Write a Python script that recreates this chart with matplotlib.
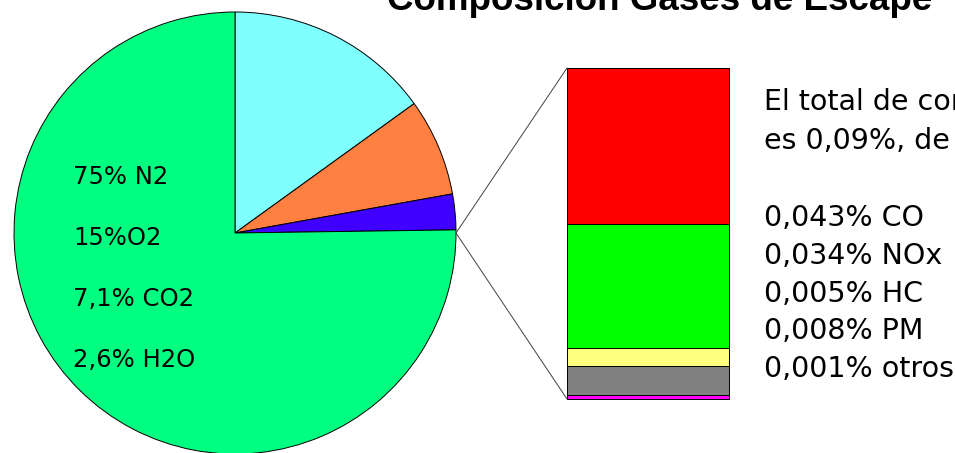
import matplotlib.pyplot as plt
from matplotlib.patches import ConnectionPatch

# main exhaust components (%)
gases = ['O2', 'CO2', 'H2O', 'N2']
gas_pct = [15, 7.1, 2.6, 75]
gas_colors = ['#80ffff', '#ff8040', '#4000ff', '#00ff80']
gas_labels = ['75% N2', '15%O2', '7,1% CO2', '2,6% H2O']

# pollutants (%), listed top to bottom
pollutants = ['CO', 'NOx', 'HC', 'PM', 'otros']
poll_pct = [0.043, 0.034, 0.005, 0.008, 0.001]
poll_colors = ['#ff0000', '#00ff00', '#ffff80', '#808080', '#ff00ff']
poll_labels = ['0,043% CO', '0,034% NOx', '0,005% HC', '0,008% PM', '0,001% otros']

W, H = 955, 453
fig = plt.figure(figsize=(W / 100, H / 100), dpi=100)
fig.patch.set_facecolor('white')

# pie axes works in pixel units, y up
ax = fig.add_axes([0, 0, 1, 1])
cx, cy, r = 235, H - 233, 221
ax.pie(gas_pct, colors=gas_colors, startangle=90, counterclock=False,
       center=(cx, cy), radius=r,
       wedgeprops=dict(edgecolor='black', linewidth=0.7))
ax.set_xlim(0, W)
ax.set_ylim(0, H)
ax.set_aspect('equal')
ax.axis('off')

for i, lab in enumerate(gas_labels):
    ax.text(73, H - 184 - 61 * i, lab, fontsize=17.5, va='baseline', ha='left',
            family='DejaVu Sans')

ax.text(660, H - 10, 'Composición Gases de Escape', fontsize=26.5,
        fontweight='bold', family='Liberation Sans', ha='center', va='baseline')

# stacked bar for the pollutants, red on top
bx = fig.add_axes([567 / W, (H - 399) / H, 162 / W, 331 / H])
bottom = 0
for val, col in reversed(list(zip(poll_pct, poll_colors))):
    bx.bar(0, val, bottom=bottom, width=1, color=col, edgecolor='black',
           linewidth=0.7, clip_on=False)
    bottom += val
bx.set_xlim(-0.5, 0.5)
bx.set_ylim(0, sum(poll_pct))
bx.axis('off')

# connector lines from the pie edge to the bar
for yb in (1, 0):
    con = ConnectionPatch(xyA=(cx + r, cy), coordsA=ax.transData,
                          xyB=(0, yb), coordsB=bx.transAxes,
                          color='#404040', linewidth=0.7)
    fig.add_artist(con)

ax.text(764, H - 110, 'El total de contaminantes', fontsize=20.5, va='baseline')
ax.text(764, H - 149, 'es 0,09%, de los cuales:', fontsize=20.5, va='baseline')
for i, lab in enumerate(poll_labels):
    ax.text(764, H - 226 - 37.8 * i, lab, fontsize=20.5, va='baseline')

fig.savefig('out.png', dpi=100)
